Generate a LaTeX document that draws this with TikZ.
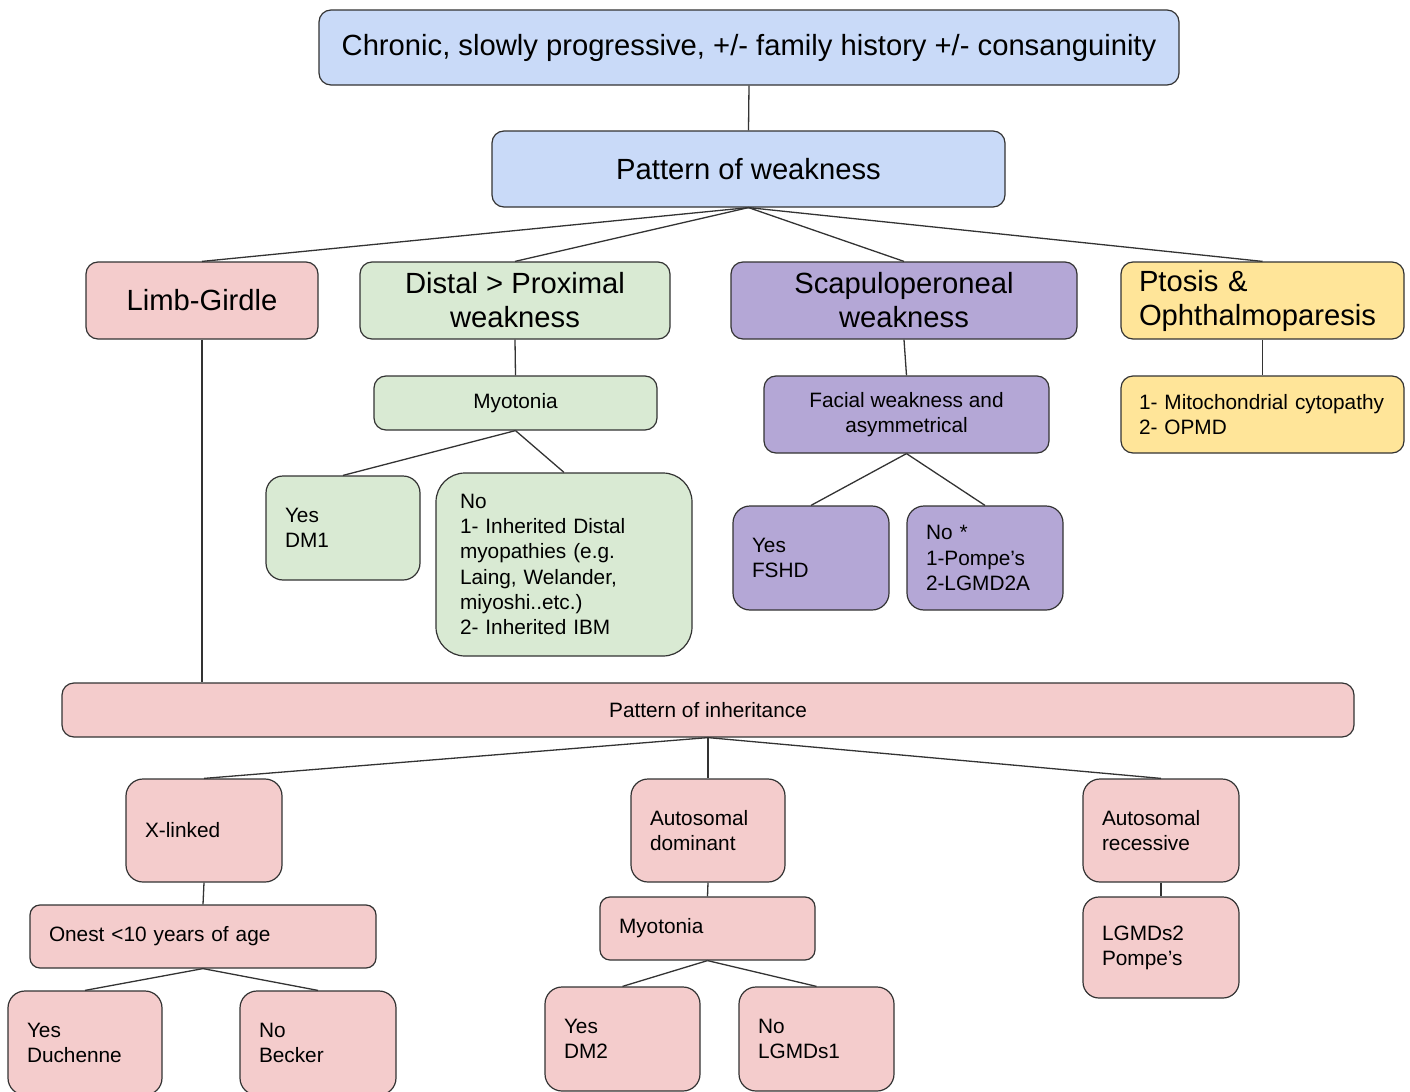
\documentclass[tikz,border=0pt]{standalone}
\usepackage{fontspec}
\setmainfont{Liberation Sans}
\definecolor{boxblue}{HTML}{C9DAF8}
\definecolor{boxpink}{HTML}{F4CCCC}
\definecolor{boxgreen}{HTML}{D9EAD3}
\definecolor{boxpurple}{HTML}{B4A7D6}
\definecolor{boxyellow}{HTML}{FFE599}
\definecolor{edgegray}{HTML}{333333}
\newdimen\px \px=0.5pt

\begin{document}
\begin{tikzpicture}[
	x=0.5pt, y=-0.5pt,
	box/.style args = {#1/#2/#3}{
		rectangle, draw=edgegray, line width=0.6pt, fill=#1,
		minimum width=#2\px, minimum height=#3\px,
		rounded corners=12\px, inner sep=0pt, align=center
	},
	bigtext/.style = {font=\fontsize{14.6}{17}\selectfont},
	smalltext/.style = {font=\fontsize{10.4}{12.6}\selectfont},
	leftbox/.style = {inner xsep=19\px, text width=#1\px, align=left},
	link/.style = {draw=edgegray, line width=0.65pt}
]
	\useasboundingbox (0,0) rectangle (1410,1092);

	\node [box=boxblue/860/75, bigtext] (history) at (749,47.5)
		{Chronic, slowly progressive, +/- family history +/- consanguinity};
	\node [box=boxblue/513/76, bigtext] (weakness) at (748.5,169) {Pattern of weakness};

	\node [box=boxpink/232/77, bigtext] (limb) at (202,300.5) {Limb-Girdle};
	\node [box=boxgreen/310/77, bigtext] (distal) at (515,300.5) {Distal > Proximal\\weakness};
	\node [box=boxpurple/346/77, bigtext] (scapulo) at (904,300.5) {Scapuloperoneal\\weakness};
	\node [box=boxyellow/283/77, bigtext, leftbox=247, inner xsep=18\px] (ptosis) at (1262.5,300.5)
		{Ptosis \&\\Ophthalmoparesis};

	\node [box=boxgreen/283/54, smalltext] (myodistal) at (515.5,403) {Myotonia};
	\node [box=boxpurple/285/77, smalltext] (facial) at (906.5,414.5) {Facial weakness and\\asymmetrical};
	\node [box=boxyellow/283/77, smalltext, leftbox=247, inner xsep=18\px] (mito) at (1262.5,414.5)
		{1- Mitochondrial cytopathy\\2- OPMD};

	\node [box=boxgreen/154/104, smalltext, leftbox=116, rounded corners=17\px] (dmone) at (343,528) {Yes\\DM1};
	\node [box=boxgreen/256/183, smalltext, leftbox=208, inner xsep=24\px, rounded corners=29\px] (nodistal) at (564,564.5)
		{No\\1- Inherited Distal\\myopathies (e.g.\\Laing, Welander,\\miyoshi..etc.)\\2- Inherited IBM};
	\node [box=boxpurple/156/104, smalltext, leftbox=118, rounded corners=17\px] (fshd) at (811,558) {Yes\\FSHD};
	\node [box=boxpurple/156/104, smalltext, leftbox=118, rounded corners=17\px] (nopompe) at (985,558)
		{No *\\1-Pompe's\\2-LGMD2A};

	\node [box=boxpink/1292/54, smalltext] (inherit) at (708,710) {Pattern of inheritance};

	\node [box=boxpink/156/103, smalltext, leftbox=118, rounded corners=17\px] (xlinked) at (204,830.5) {X-linked};
	\node [box=boxpink/154/103, smalltext, leftbox=116, rounded corners=17\px] (autodom) at (708,830.5) {Autosomal\\dominant};
	\node [box=boxpink/156/103, smalltext, leftbox=118, rounded corners=17\px] (autorec) at (1161,830.5) {Autosomal\\recessive};

	\node [box=boxpink/346/63, smalltext, leftbox=308, rounded corners=10\px] (onset) at (203,936.5) {Onest <10 years of age};
	\node [box=boxpink/215/63, smalltext, leftbox=177, rounded corners=10\px] (myodom) at (707.5,928.5) {Myotonia};
	\node [box=boxpink/156/101, smalltext, leftbox=118, rounded corners=16\px] (lgmdtwo) at (1161,947.5) {LGMDs2\\Pompe's};

	\node [box=boxpink/154/104, smalltext, leftbox=116, rounded corners=17\px] (duchenne) at (85,1043) {Yes\\Duchenne};
	\node [box=boxpink/156/104, smalltext, leftbox=118, rounded corners=17\px] (becker) at (318,1043) {No\\Becker};
	\node [box=boxpink/155/104, smalltext, leftbox=117, rounded corners=17\px] (dmtwo) at (622.5,1039) {Yes\\DM2};
	\node [box=boxpink/155/104, smalltext, leftbox=117, rounded corners=17\px] (lgmdone) at (816.5,1039) {No\\LGMDs1};

	\draw [link] (history.south) -- (weakness.north);
	\foreach \kid in {limb,distal,scapulo,ptosis}
		\draw [link] (weakness.south) -- (\kid.north);
	\draw [link] (limb.south) -- (limb.south |- inherit.north);
	\draw [link] (distal.south) -- (myodistal.north);
	\draw [link] (scapulo.south) -- (facial.north);
	\draw [link] (ptosis.south) -- (mito.north);
	\foreach \kid in {dmone,nodistal}
		\draw [link] (myodistal.south) -- (\kid.north);
	\foreach \kid in {fshd,nopompe}
		\draw [link] (facial.south) -- (\kid.north);
	\foreach \kid in {xlinked,autodom,autorec}
		\draw [link] (inherit.south) -- (\kid.north);
	\draw [link] (xlinked.south) -- (onset.north);
	\draw [link] (autodom.south) -- (myodom.north);
	\draw [link] (autorec.south) -- (lgmdtwo.north);
	\foreach \kid in {duchenne,becker}
		\draw [link] (onset.south) -- (\kid.north);
	\foreach \kid in {dmtwo,lgmdone}
		\draw [link] (myodom.south) -- (\kid.north);
\end{tikzpicture}
\end{document}
